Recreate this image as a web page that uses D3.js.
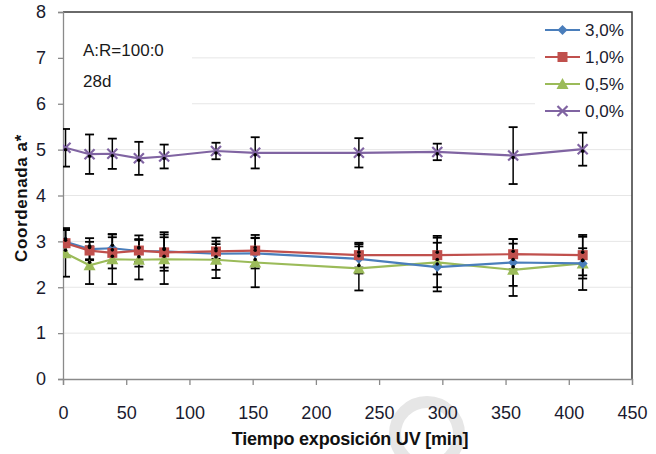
<!DOCTYPE html>
<html><head><meta charset="utf-8">
<script src="https://cdn.jsdelivr.net/npm/d3@7"></script>
<style>
html,body{margin:0;padding:0;background:#fff;}
svg{display:block;}
text{font-family:"Liberation Sans Narrow","Arial Narrow","Liberation Sans",sans-serif;}
</style></head>
<body>
<svg id="chart" width="656" height="454"></svg>
<script>
// ---- data ----
const times = [2, 21, 39, 60, 80, 121, 152, 234, 296, 356, 411];
const seriesNames = ["3,0%", "1,0%", "0,5%", "0,0%"];
const s30 = [2.99, 2.83, 2.85, 2.79, 2.78, 2.73, 2.74, 2.62, 2.44, 2.54, 2.52];
const e30 = [0.30, 0.24, 0.31, 0.34, 0.42, 0.35, 0.33, 0.32, 0.53, 0.51, 0.33];
const s10 = [2.96, 2.80, 2.75, 2.80, 2.76, 2.78, 2.80, 2.70, 2.70, 2.72, 2.70];
const e10 = [0.29, 0.19, 0.34, 0.25, 0.33, 0.16, 0.34, 0.27, 0.42, 0.33, 0.44];
const s05 = [2.74, 2.48, 2.61, 2.60, 2.61, 2.60, 2.54, 2.41, 2.54, 2.38, 2.52];
const e05 = [0.51, 0.41, 0.54, 0.43, 0.54, 0.40, 0.54, 0.48, 0.54, 0.57, 0.58];
const s00 = [5.04, 4.90, 4.91, 4.81, 4.85, 4.97, 4.93, 4.93, 4.95, 4.87, 5.01];
const e00 = [0.41, 0.43, 0.33, 0.36, 0.26, 0.18, 0.34, 0.32, 0.18, 0.62, 0.36];
const xTicks = [0, 50, 100, 150, 200, 250, 300, 350, 400, 450];
const yTicks = [0, 1, 2, 3, 4, 5, 6, 7, 8];
const annotation = ["A:R=100:0", "28d"];
const xTitle = "Tiempo exposición UV [min]";
const yTitle = "Coordenada a*";

const colors = ["#4A7EBB", "#C0504D", "#9BBB59", "#8064A2"];
const markers = ["diamond", "square", "triangle", "cross"];
const values = [s30, s10, s05, s00];
const errors = [e30, e10, e05, e00];

// ---- layout ----
const svg = d3.select("#chart");
const L = 63, R = 632, T = 12, B = 379;
const x = d3.scaleLinear().domain([0, 450]).range([L, R]);
const y = d3.scaleLinear().domain([0, 8]).range([B, T]);
const FONT = "'Liberation Sans Narrow','Arial Narrow',sans-serif";

// watermark ring
svg.append("circle").attr("cx", 427).attr("cy", 434).attr("r", 32)
  .attr("fill", "none").attr("stroke", "#e6e6e6").attr("stroke-width", 12);

// gridlines
svg.append("g").selectAll("line").data(yTicks.filter(d => d > 0 && d < 8)).join("line")
  .attr("x1", L).attr("x2", R).attr("y1", d => y(d)).attr("y2", d => y(d))
  .attr("stroke", "#e6e6e6").attr("stroke-width", 1);

// white boxes behind annotation and legend (hide gridlines)
svg.append("rect").attr("x", L + 1).attr("y", T + 1).attr("width", 128).attr("height", 110).attr("fill", "#fff");
svg.append("rect").attr("x", 535).attr("y", T + 1).attr("width", R - 536).attr("height", 112).attr("fill", "#fff");

// top & right frame
svg.append("path").attr("d", `M${L},${T}H${R}V${B}`).attr("fill", "none")
  .attr("stroke", "#3a3a3a").attr("stroke-width", 1.5);

// axes
const xAxis = d3.axisBottom(x).tickValues(xTicks).tickSize(6).tickPadding(21).tickFormat(d3.format("d"));
const gx = svg.append("g").attr("transform", `translate(0,${B})`).call(xAxis);
gx.select(".domain").attr("stroke", "#8a8a8a").attr("stroke-width", 1.3);
gx.selectAll(".tick line").attr("stroke", "#8a8a8a").attr("stroke-width", 1.3);
gx.selectAll(".tick text").attr("font-size", 18).attr("fill", "#1a1a2e").attr("font-family", FONT);

const yAxis = d3.axisLeft(y).tickValues(yTicks).tickSize(5).tickPadding(12).tickFormat(d3.format("d"));
const gy = svg.append("g").attr("transform", `translate(${L},0)`).call(yAxis);
gy.select(".domain").attr("stroke", "#8a8a8a").attr("stroke-width", 1.3);
gy.selectAll(".tick line").attr("stroke", "#8a8a8a").attr("stroke-width", 1.3);
gy.selectAll(".tick text").attr("font-size", 18).attr("fill", "#1a1a2e").attr("font-family", FONT);

// titles
svg.append("text").attr("x", 350).attr("y", 445).attr("text-anchor", "middle")
  .attr("font-size", 18).attr("font-weight", "bold").attr("fill", "#111")
  .attr("letter-spacing", -0.2).text(xTitle);
svg.append("text").attr("transform", "translate(27,198) rotate(-90)").attr("text-anchor", "middle")
  .attr("font-size", 17).attr("font-weight", "bold").attr("fill", "#111")
  .attr("letter-spacing", 0.6).text(yTitle);

// annotation
svg.selectAll(".ann").data(annotation).join("text").attr("class", "ann")
  .attr("x", 83).attr("y", (d, i) => 56 + i * 31)
  .attr("font-size", 17).attr("fill", "#1a1a1a").text(d => d);

// plot clip
svg.append("clipPath").attr("id", "clip").append("rect")
  .attr("x", L).attr("y", T).attr("width", R - L).attr("height", B - T);
const plot = svg.append("g").attr("clip-path", "url(#clip)");

function drawMarker(g, type, color, cx, cy) {
  if (type === "diamond") {
    g.append("path").attr("d", `M${cx},${cy - 5}L${cx + 5},${cy}L${cx},${cy + 5}L${cx - 5},${cy}Z`).attr("fill", color);
  } else if (type === "square") {
    g.append("rect").attr("x", cx - 5).attr("y", cy - 5).attr("width", 10).attr("height", 10).attr("fill", color);
  } else if (type === "triangle") {
    g.append("path").attr("d", `M${cx},${cy - 6}L${cx + 6},${cy + 5}L${cx - 6},${cy + 5}Z`).attr("fill", color);
  } else {
    g.append("path").attr("d", `M${cx - 5},${cy - 5}L${cx + 5},${cy + 5}M${cx - 5},${cy + 5}L${cx + 5},${cy - 5}`)
      .attr("stroke", color).attr("stroke-width", 2.2).attr("fill", "none");
  }
}

const line = d3.line().x(d => x(d[0])).y(d => y(d[1]));

// error bars first
values.forEach((vals, si) => {
  const g = plot.append("g");
  vals.forEach((v, i) => {
    const cx = x(times[i]), e = errors[si][i];
    const y1 = y(v + e), y2 = y(v - e);
    g.append("line").attr("x1", cx).attr("x2", cx).attr("y1", y1).attr("y2", y2)
      .attr("stroke", "#000").attr("stroke-width", 1.5);
    [y1, y2].forEach(yy => g.append("line").attr("x1", cx - 4.5).attr("x2", cx + 4.5)
      .attr("y1", yy).attr("y2", yy).attr("stroke", "#000").attr("stroke-width", 1.8));
  });
});

// lines + markers
[2, 0, 1, 3].forEach(si => {
  const pts = times.map((t, i) => [t, values[si][i]]);
  plot.append("path").attr("d", line(pts)).attr("fill", "none")
    .attr("stroke", colors[si]).attr("stroke-width", 2.2);
  const g = plot.append("g");
  pts.forEach(p => drawMarker(g, markers[si], colors[si], x(p[0]), y(p[1])));
});

// black centre dots
values.forEach((vals, si) => {
  vals.forEach((v, i) => {
    plot.append("circle").attr("cx", x(times[i])).attr("cy", y(v) + (si === 3 ? 2 : -3)).attr("r", 1.8).attr("fill", "#000");
  });
});

// legend
const lg = svg.append("g");
seriesNames.forEach((name, i) => {
  const ly = 30 + i * 27;
  lg.append("line").attr("x1", 545).attr("x2", 580).attr("y1", ly).attr("y2", ly)
    .attr("stroke", colors[i]).attr("stroke-width", 1.8);
  drawMarker(lg, markers[i], colors[i], 562.5, ly);
  lg.append("text").attr("x", 585).attr("y", ly + 6).attr("font-size", 17)
    .attr("fill", "#1a1a2e").text(name);
});
</script>
</body></html>
